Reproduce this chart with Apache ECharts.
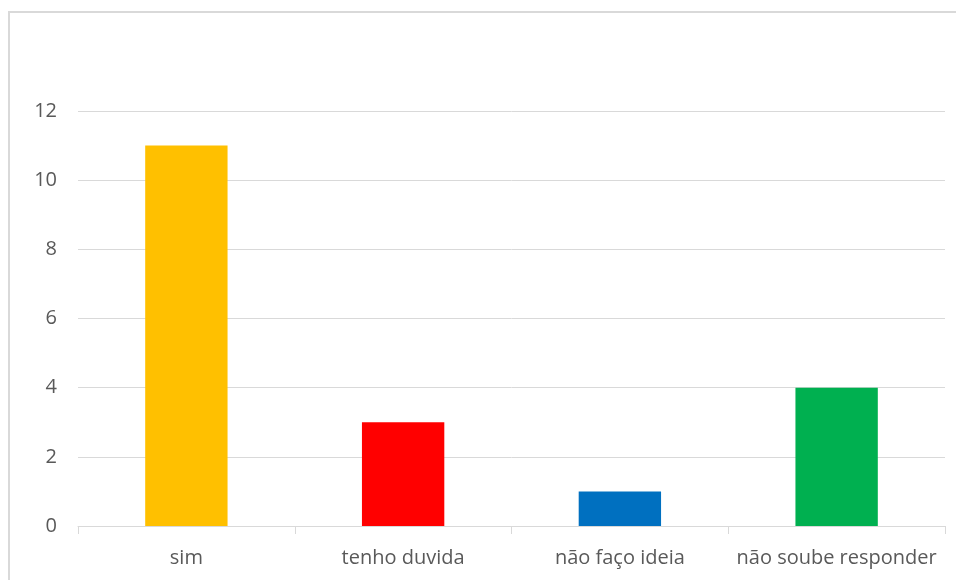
<!DOCTYPE html>
<html>
<head>
<meta charset="utf-8">
<script src="https://cdn.jsdelivr.net/npm/echarts@6/dist/echarts.min.js"></script>
<style>
    html, body { margin: 0; padding: 0; background: #fff; }
    #chart { width: 956px; height: 580px; }
</style>
</head>
<body>
<div id="chart"></div>
<script>
// dados do gráfico
const categorias = ['sim', 'tenho duvida', 'não faço ideia', 'não soube responder'];
const valores = [11, 3, 1, 4];
const cores = ['#FFC000', '#FF0000', '#0070C0', '#00B050'];

const myChart = echarts.init(document.getElementById('chart'));
const option = {
    animation: false,
    textStyle: { fontFamily: '"Open Sans", Arial, sans-serif' },
    graphic: [{
        type: 'rect',
        shape: { x: 9, y: 12, width: 980, height: 600 },
        style: { fill: 'none', stroke: '#d9d9d9', lineWidth: 2 },
        silent: true
    }],
    grid: {
        left: 78,
        right: 11,
        top: 111,
        bottom: 54
    },
    xAxis: {
        type: 'category',
        data: categorias,
        axisLine: { lineStyle: { color: '#d9d9d9', width: 1 } },
        axisTick: { show: true, interval: 0, length: 8, lineStyle: { color: '#d9d9d9' } },
        axisLabel: { color: '#595959', fontSize: 20, margin: 22, interval: 0, hideOverlap: false }
    },
    yAxis: {
        type: 'value',
        min: 0,
        max: 12,
        interval: 2,
        axisLine: { show: false },
        axisTick: { show: false },
        splitLine: { lineStyle: { color: '#d9d9d9', width: 1 } },
        axisLabel: { color: '#595959', fontSize: 20, margin: 21 }
    },
    series: [{
        type: 'bar',
        barWidth: '38%',
        data: valores.map((v, i) => ({ value: v, itemStyle: { color: cores[i] } }))
    }]
};
myChart.setOption(option);
</script>
</body>
</html>
